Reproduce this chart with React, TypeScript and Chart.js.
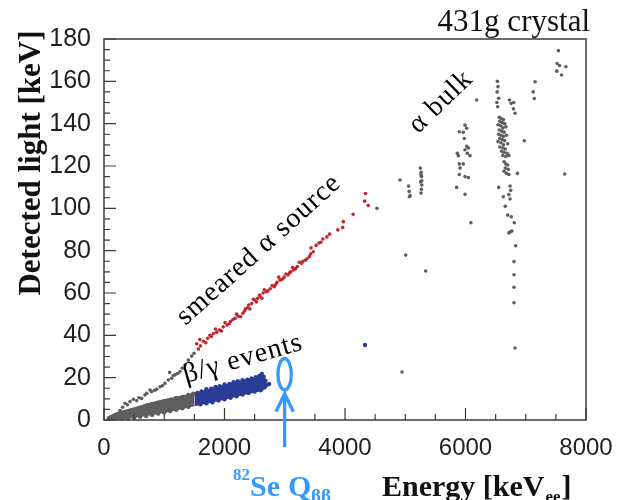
import React, { useEffect, useRef } from 'react';
import { Chart, registerables } from 'chart.js';

Chart.register(...registerables);

// ---------- data (Energy keV_ee, Detected light keV) ----------
const xTickValues = [0, 2000, 4000, 6000, 8000];
const yTickValues = [0, 20, 40, 60, 80, 100, 120, 140, 160, 180];
const xMinorStep = 500;
const yMinorStep = 5;
const qbbEnergy = 2998;

const redSource: number[][] = [
  [1538, 36], [1566, 33.5], [1590, 38], [1600, 35], [1650, 37.2], [1690, 36.5], [1721, 38.6], [1760, 40],
  [1780, 39.5], [1818, 40.9], [1850, 43], [1870, 41.5], [1916, 42.5], [1950, 42], [1980, 44], [2010, 46],
  [2045, 44.9], [2080, 45.5], [2100, 46.5], [2140, 47.5], [2175, 48], [2200, 50], [2230, 49], [2270, 48.8],
  [2305, 50.4], [2330, 51.5], [2350, 52.5], [2380, 53], [2403, 54.3], [2420, 52.5], [2450, 55], [2480, 57],
  [2500, 56.7], [2530, 55.8], [2550, 57.5], [2580, 59], [2597, 58.3], [2620, 57.5], [2640, 60], [2660, 61.5],
  [2695, 60.6], [2720, 61], [2760, 62], [2790, 63.5], [2825, 63], [2850, 64], [2870, 65], [2900, 67.5],
  [2922, 66.1], [2960, 66.5], [2990, 67.5], [3020, 69], [3052, 68.5], [3080, 69.5], [3100, 70], [3130, 72],
  [3149, 70.9], [3180, 71.5], [3210, 72.5], [3240, 74.5], [3279, 74], [3300, 75], [3340, 75.5], [3370, 76.2],
  [3409, 77.2], [3430, 78.5], [3474, 79.5], [3437, 81.3], [3520, 82.5], [3568, 83.6], [3600, 84], [3633, 85.5],
  [3700, 86.5], [3744, 87.8], [3882, 89.8], [3962, 91], [3972, 93.7], [4136, 97.2], [4326, 103.4], [4386, 101.3],
  [4340, 107],
];

const alphaBulk: number[][] = [
  [7542, 174.5], [7520, 168.4], [7560, 167.5], [7666, 166.9], [7515, 164.8], [7594, 163],
  [7155, 159.8], [7123, 155], [7142, 151.9], [7646, 116.2], [6976, 131.9], [6861, 116.5],
  [6822, 144.9], [6795, 147], [6756, 149.5], [6730, 151.2], [6800, 150], [6186, 151.2],
  [6530, 160], [6540, 157.5], [6525, 155], [6550, 152], [6520, 150], [6535, 148],
  [6560, 143], [6590, 142.5], [6630, 142], [6570, 141], [6610, 140.5], [6650, 140], [6540, 139.5], [6585, 139],
  [6620, 138], [6670, 138.5], [6560, 137], [6600, 136.5], [6640, 136], [6550, 135], [6590, 134.5], [6630, 134],
  [6680, 134.5], [6570, 133], [6610, 132.5], [6650, 132], [6540, 131.5], [6590, 131], [6630, 130], [6700, 130.5],
  [6570, 129], [6620, 128.5], [6660, 128], [6600, 127], [6640, 126.5], [6690, 126], [6620, 125], [6670, 124.5],
  [6720, 125], [6640, 122], [6670, 121], [6700, 120.5], [6660, 119], [6710, 118.5], [6640, 117.5], [6680, 116.5],
  [6720, 116], [6551, 109.9], [6740, 110.5], [6750, 108.5], [6720, 106.5], [6740, 104.4], [6627, 105.5],
  [6660, 101], [6700, 96.8], [6760, 96], [6810, 93.2], [6745, 88.9], [6770, 89.3], [6720, 88.4], [6833, 82.3],
  [6805, 74.8], [6805, 68.6], [6805, 62.7], [6805, 55.4], [6822, 34],
  [5992, 139.3], [6020, 137.8], [5897, 136.2], [5963, 135.9], [5980, 133], [6020, 129.3], [6048, 128.5],
  [5992, 127.7], [6075, 124.9], [6030, 126], [5864, 126], [5881, 124.9], [5897, 121], [5963, 121], [5910, 119],
  [5897, 116], [5992, 115], [6048, 114.6], [5853, 109.9], [5992, 106.6], [6091, 93.2],
  [5250, 119], [5265, 117], [5270, 115], [5275, 113], [5275, 111], [5268, 109], [5262, 107.2], [5260, 116],
  [5255, 112.5], [5055, 110.5], [5065, 108], [5080, 106], [5070, 105.5], [4913, 113.4],
  [4530, 100], [5007, 77.9], [5339, 70.4], [4946, 22.7],
];

const graySparse: number[][] = [
  [120, 1.5], [180, 2.5], [227, 3.1], [266, 4.5], [310, 6], [349, 7.9], [390, 7.2], [432, 8.7], [487, 9.8],
  [542, 9.1], [580, 10.5], [625, 10.2], [680, 11.8], [708, 12.6], [763, 14.2], [791, 13.4], [840, 14],
  [874, 14.5], [930, 15.7], [970, 16.2], [1012, 17.3], [1068, 18.9], [1090, 22.5], [1122, 19.7], [1150, 21],
  [1178, 21.3], [1220, 22], [1261, 22.8], [1300, 24.5], [1344, 26], [1399, 28.3], [1455, 30.2], [1494, 31.5],
];

const grayBandEdgePts: number[][] = [
  [100, 0.5], [200, 1.8], [300, 2.8], [400, 3.4], [500, 4.8], [600, 5.6], [700, 6.8], [800, 7.4], [900, 8.2],
  [1000, 8.8], [1100, 9.5], [1200, 10.4], [1300, 10.9], [1400, 11.8], [1480, 12.4], [1400, 6.2], [1300, 5.5],
  [1200, 4.8], [1100, 4.2], [1000, 3.6], [900, 3], [800, 2.4], [700, 1.9], [600, 1.5], [500, 1.1], [400, 0.8],
  [300, 0.5],
];

const blueEvents: number[][] = [
  [1550, 12.8], [1620, 13.5], [1700, 14.5], [1780, 14.8], [1850, 15.6], [1920, 16], [2000, 16.8], [2080, 17],
  [2150, 17.8], [2220, 18.3], [2300, 18.8], [2380, 19], [2450, 19.6], [2520, 20.2], [2580, 20.8], [2620, 21.8],
  [2650, 20.5], [2680, 18.5], [2700, 16.5], [2740, 17], [2670, 16], [2600, 14], [2500, 13.5], [2400, 12.8],
  [2300, 12], [2200, 11.2], [2100, 10.5], [2000, 9.8], [1900, 9.2], [1800, 8.4], [1700, 7.9], [1600, 7.4],
  [4332, 35.4],
];

const grayBandLower: number[][] = [[40, 0], [300, 0.4], [500, 1.0], [800, 2.2], [1040, 3.6], [1250, 4.9], [1500, 6.5]];
const grayBandUpper: number[][] = [[40, 1.4], [150, 3.0], [266, 4.2], [487, 5.9], [763, 8.3], [1040, 10.2], [1316, 11.7], [1500, 13.0]];
const blueBandLower: number[][] = [[1500, 6.5], [1700, 7.7], [2000, 9.6], [2300, 11.7], [2600, 13.6], [2700, 14.8]];
const blueBandUpper: number[][] = [[1500, 13.0], [1700, 14.4], [2000, 16.7], [2300, 18.9], [2550, 20.4], [2620, 21.8], [2700, 19]];

// ---------- styles ----------
const GRAY = '#5e5e5e';
const RED = '#c1272d';
const BLUE = '#2b3c96';
const ANNOT = '#3399ff';
const SERIF = '"Liberation Serif", "Times New Roman", serif';
const SANS = '"Liberation Sans", Arial, sans-serif';

const toXY = (arr: number[][]) => arr.map(([x, y]) => ({ x, y }));

const decorPlugin = {
  id: 'decor',
  afterDraw(chart: any) {
    const { ctx, chartArea: a, scales } = chart;
    const xs = scales.x;
    const ys = scales.y;
    ctx.save();
    // frame
    ctx.strokeStyle = '#3a3a3a';
    ctx.lineWidth = 1.5;
    ctx.strokeRect(a.left, a.top, a.right - a.left, a.bottom - a.top);
    // inner ticks
    ctx.lineWidth = 1.2;
    ctx.beginPath();
    for (let v = xs.min; v <= xs.max; v += xMinorStep) {
      const px = xs.getPixelForValue(v);
      const len = xTickValues.includes(v) ? 12 : 6;
      ctx.moveTo(px, a.bottom);
      ctx.lineTo(px, a.bottom - len);
    }
    for (let v = ys.min; v <= ys.max; v += yMinorStep) {
      const py = ys.getPixelForValue(v);
      const len = yTickValues.includes(v) ? 12 : 6;
      ctx.moveTo(a.left, py);
      ctx.lineTo(a.left + len, py);
    }
    ctx.stroke();

    // Qbb marker
    const qx = xs.getPixelForValue(qbbEnergy);
    ctx.strokeStyle = ANNOT;
    ctx.lineWidth = 3.3;
    ctx.beginPath();
    ctx.ellipse(qx, ys.getPixelForValue(21.6), 6.7, 15.8, 0, 0, Math.PI * 2);
    ctx.stroke();
    const tip = ys.getPixelForValue(12.4);
    ctx.beginPath();
    ctx.moveTo(qx, tip);
    ctx.lineTo(qx, a.bottom + 27);
    ctx.moveTo(qx - 8.7, tip + 18);
    ctx.lineTo(qx, tip);
    ctx.lineTo(qx + 8.7, tip + 18);
    ctx.stroke();

    // Qbb label
    ctx.fillStyle = ANNOT;
    ctx.textBaseline = 'alphabetic';
    ctx.textAlign = 'left';
    ctx.font = `bold 17px ${SERIF}`;
    ctx.fillText('82', 233, 480);
    ctx.font = `bold 30px ${SERIF}`;
    ctx.fillText('Se', 250, 496);
    ctx.fillText('Q', 288, 496);
    ctx.font = `bold 19px ${SERIF}`;
    ctx.fillText('ββ', 311, 502);

    // x title
    ctx.fillStyle = '#111';
    ctx.font = `bold 30px ${SERIF}`;
    ctx.fillText('Energy [keV', 382, 496);
    const w = ctx.measureText('Energy [keV').width;
    ctx.font = `bold 17px ${SERIF}`;
    ctx.fillText('ee', 382 + w + 1, 502);
    const w2 = ctx.measureText('ee').width;
    ctx.font = `bold 30px ${SERIF}`;
    ctx.fillText(']', 382 + w + w2 + 2, 496);

    // y title
    ctx.save();
    ctx.translate(32, 163);
    ctx.rotate(-Math.PI / 2);
    ctx.textAlign = 'center';
    ctx.textBaseline = 'middle';
    ctx.font = `bold 31px ${SERIF}`;
    ctx.fillText('Detected light [keV]', 0, 0);
    ctx.restore();

    // top-right label
    ctx.textAlign = 'right';
    ctx.textBaseline = 'alphabetic';
    ctx.font = `31px ${SERIF}`;
    ctx.fillText('431g crystal', 590, 31);

    // rotated annotations
    const rot = (text: string, cx: number, cy: number, deg: number, size: number, spacing: string) => {
      ctx.save();
      ctx.translate(cx, cy);
      ctx.rotate((-deg * Math.PI) / 180);
      ctx.textAlign = 'center';
      ctx.textBaseline = 'middle';
      ctx.font = `${size}px ${SERIF}`;
      (ctx as any).letterSpacing = spacing;
      ctx.fillText(text, 0, 0);
      ctx.restore();
    };
    ctx.fillStyle = '#000';
    rot('smeared α source', 259, 250, 42, 28, '1px');
    rot('α bulk', 441, 102, 44, 28, '1px');
    rot('β/γ events', 243, 359, 16, 28, '1px');

    ctx.restore();
  },
};

export default function App() {
  const ref = useRef<HTMLCanvasElement | null>(null);
  useEffect(() => {
    document.body.style.margin = '0';
    const canvas = ref.current;
    if (!canvas) return;
    const pt = (data: number[][], color: string, r = 1.7) => ({
      type: 'scatter' as const,
      data: toXY(data),
      backgroundColor: color,
      borderColor: color,
      borderWidth: 0,
      pointRadius: r,
      pointHoverRadius: r,
      showLine: false,
    });
    const band = (data: number[][], color: string, fill: any) => ({
      type: 'line' as const,
      data: toXY(data),
      borderWidth: 0,
      borderColor: color,
      backgroundColor: color,
      pointRadius: 0,
      fill,
      tension: 0,
    });
    const chart = new Chart(canvas, {
      type: 'scatter',
      data: {
        datasets: [
          pt(redSource, RED, 1.8),
          pt(alphaBulk, GRAY, 1.8),
          pt(graySparse, GRAY, 1.8),
          pt(blueEvents, BLUE, 2.2),
          pt(grayBandEdgePts, GRAY, 2.2),
          band(grayBandLower, GRAY, false),
          band(grayBandUpper, GRAY, '-1'),
          band(blueBandLower, BLUE, false),
          band(blueBandUpper, BLUE, '-1'),
        ] as any,
      },
      options: {
        animation: false,
        responsive: false,
        maintainAspectRatio: false,
        layout: { padding: { top: 39, right: 33, left: 0, bottom: 0 } },
        plugins: { legend: { display: false }, tooltip: { enabled: false } },
        scales: {
          x: {
            type: 'linear',
            min: 0,
            max: 8000,
            grid: { display: false },
            border: { display: false },
            ticks: {
              stepSize: 2000,
              autoSkip: false,
              maxRotation: 0,
              padding: 6,
              color: '#231f20',
              font: { family: SANS, size: 24 },
              callback: (v: any) => String(v),
            },
            afterFit: (s: any) => { s.height = 80; },
          },
          y: {
            type: 'linear',
            min: 0,
            max: 180,
            grid: { display: false },
            border: { display: false },
            ticks: {
              stepSize: 20,
              autoSkip: false,
              padding: 5,
              color: '#231f20',
              font: { family: SANS, size: 25 },
              callback: (v: any) => String(v),
            },
            afterFit: (s: any) => { s.width = 104; },
          },
        },
      } as any,
      plugins: [decorPlugin],
    });
    return () => chart.destroy();
  }, []);
  return (
    <div style={{ width: 619, height: 500, position: 'relative' }}>
      <canvas ref={ref} width={619} height={500} style={{ width: 619, height: 500, display: 'block' }} />
    </div>
  );
}
